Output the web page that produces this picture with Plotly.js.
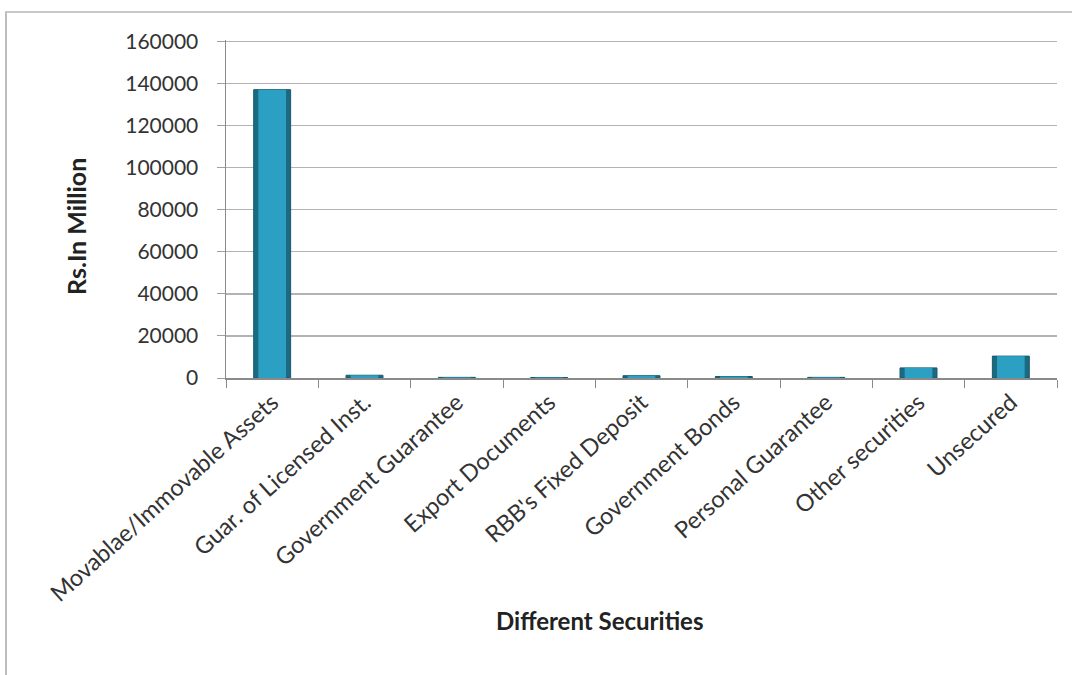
<!DOCTYPE html>
<html>
<head>
<meta charset="utf-8">
<script src="https://cdn.plot.ly/plotly-3.0.1.min.js"></script>
<style>
  html, body { margin: 0; padding: 0; background: #fff; }
  #frame { position: absolute; left: 5px; top: 11px; width: 1100px; height: 700px;
           border-left: 2px solid #bdbdbd; border-top: 2px solid #c8c8c8; }
  #chart { position: absolute; left: 0; top: 0; width: 1072px; height: 675px; }
</style>
</head>
<body>
<div id="frame"></div>
<div id="chart"></div>
<script>
const categories = [
  "Movablae/Immovable Assets",
  "Guar. of Licensed Inst.",
  "Government Guarantee",
  "Export Documents",
  "RBB's Fixed Deposit",
  "Government Bonds",
  "Personal Guarantee",
  "Other securities",
  "Unsecured"
];
const values = [137000, 1300, 300, 250, 1100, 700, 300, 4800, 10400];
const yTicks = [0, 20000, 40000, 60000, 80000, 100000, 120000, 140000, 160000];
const xTitle = "Different Securities";
const yTitle = "Rs.In Million";

const font = "Lato, 'Open Sans', sans-serif";

Plotly.newPlot("chart", [
  {
    type: "bar", x: categories, y: values, width: 0.4,
    marker: { color: "#1b6a82", line: { color: "#175a6d", width: 1 } },
    hoverinfo: "x+y"
  },
  {
    type: "bar", x: categories, y: values, width: 0.3,
    marker: { color: "#2ba0c3", line: { width: 0 } },
    hoverinfo: "skip"
  }
], {
  width: 1072, height: 675,
  paper_bgcolor: "rgba(0,0,0,0)",
  plot_bgcolor: "rgba(0,0,0,0)",
  margin: { l: 226, r: 15, t: 40, b: 297 },
  barmode: "overlay",
  showlegend: false,
  xaxis: {
    type: "category",
    tickangle: -42,
    tickson: "boundaries",
    ticks: "outside",
    ticklen: 8,
    tickcolor: "#8a8a8a",
    showline: true,
    linecolor: "#8a8a8a",
    linewidth: 1.5,
    showgrid: false,
    tickfont: { family: font, size: 23.5, color: "#333" }
  },
  yaxis: {
    range: [0, 160600],
    tickvals: yTicks,
    ticktext: yTicks.map(String),
    ticks: "outside",
    ticklen: 8,
    tickcolor: "#a0a0a0",
    ticklabelstandoff: 14,
    showline: true,
    linecolor: "#8a8a8a",
    linewidth: 1.5,
    showgrid: true,
    gridcolor: "#b3b3b3",
    gridwidth: 1.5,
    zeroline: false,
    tickfont: { family: font, size: 21, color: "#333" }
  },
  annotations: [
    {
      text: "<b>" + xTitle + "</b>", xref: "paper", yref: "paper",
      x: 0.45, y: -0.716, xanchor: "center", yanchor: "middle", showarrow: false,
      font: { family: font, size: 24, color: "#222" }
    },
    {
      text: "<b>" + yTitle + "</b>", xref: "paper", yref: "paper", textangle: -90,
      x: -0.1805, y: 0.447, xanchor: "center", yanchor: "middle", showarrow: false,
      font: { family: font, size: 25, color: "#222" }
    }
  ]
}, { displayModeBar: false, staticPlot: true });
</script>
</body>
</html>
